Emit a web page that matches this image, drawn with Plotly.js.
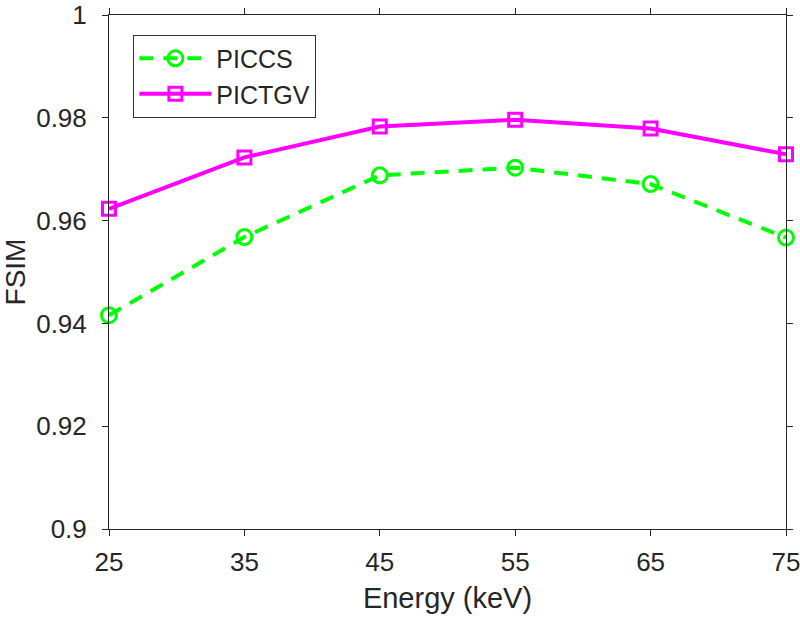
<!DOCTYPE html>
<html>
<head>
<meta charset="utf-8">
<script src="https://cdn.plot.ly/plotly-3.0.1.min.js"></script>
<style>html,body{margin:0;padding:0;background:#fff;}#chart{width:800px;height:618px;}</style>
</head>
<body>
<div id="chart"></div>
<script>
const energy = [25, 35, 45, 55, 65, 75];
const piccs = [0.9416, 0.9568, 0.9688, 0.9703, 0.9671, 0.9567];
const pictgv = [0.9623, 0.9723, 0.9783, 0.9796, 0.9779, 0.9729];
const xTicks = [25, 35, 45, 55, 65, 75];
const yTicks = [0.9, 0.92, 0.94, 0.96, 0.98, 1];
const yTickText = ['0.9', '0.92', '0.94', '0.96', '0.98', '1'];

const font = {family: 'Liberation Sans, Arial, sans-serif', color: '#262626'};

const traces = [
  {
    x: energy, y: piccs, name: 'PICCS', type: 'scatter', mode: 'lines+markers',
    line: {color: '#00ff00', width: 4, dash: '14px,10px'},
    marker: {symbol: 'circle-open', size: 15, color: '#00ff00', line: {width: 3, color: '#00ff00'}},
    cliponaxis: false
  },
  {
    x: energy, y: pictgv, name: 'PICTGV', type: 'scatter', mode: 'lines+markers',
    line: {color: '#ff00ff', width: 4},
    marker: {symbol: 'square-open', size: 13, color: '#ff00ff', line: {width: 3, color: '#ff00ff'}},
    cliponaxis: false
  }
];

const axisCommon = {
  showgrid: false, zeroline: false, showline: true, mirror: 'ticks',
  linecolor: '#262626', linewidth: 1, ticks: 'outside', ticklen: 6, tickwidth: 1,
  tickcolor: '#262626', tickfont: Object.assign({size: 26}, font),
  ticklabeloverflow: 'allow'
};

const layout = {
  width: 800, height: 618,
  margin: {l: 109, r: 14, t: 15, b: 89},
  paper_bgcolor: '#fff', plot_bgcolor: '#fff',
  font: font,
  xaxis: Object.assign({}, axisCommon, {
    range: [25, 75], tickvals: xTicks, ticktext: xTicks.map(String),
    ticklabelstandoff: 4,
    title: {text: 'Energy (keV)', font: Object.assign({size: 29}, font), standoff: 11}
  }),
  yaxis: Object.assign({}, axisCommon, {
    range: [0.9, 1], tickvals: yTicks, ticktext: yTickText,
    ticklabelstandoff: 10,
    title: {text: 'FSIM', font: Object.assign({size: 28}, font), standoff: 8}
  }),
  showlegend: true,
  legend: {
    x: 0.036, y: 0.962, xanchor: 'left', yanchor: 'top',
    bordercolor: '#333', borderwidth: 1, bgcolor: '#fff',
    font: Object.assign({size: 25}, font),
    itemwidth: 72, tracegroupgap: 0
  }
};

Plotly.newPlot('chart', traces, layout, {displayModeBar: false, staticPlot: true});
</script>
</body>
</html>
